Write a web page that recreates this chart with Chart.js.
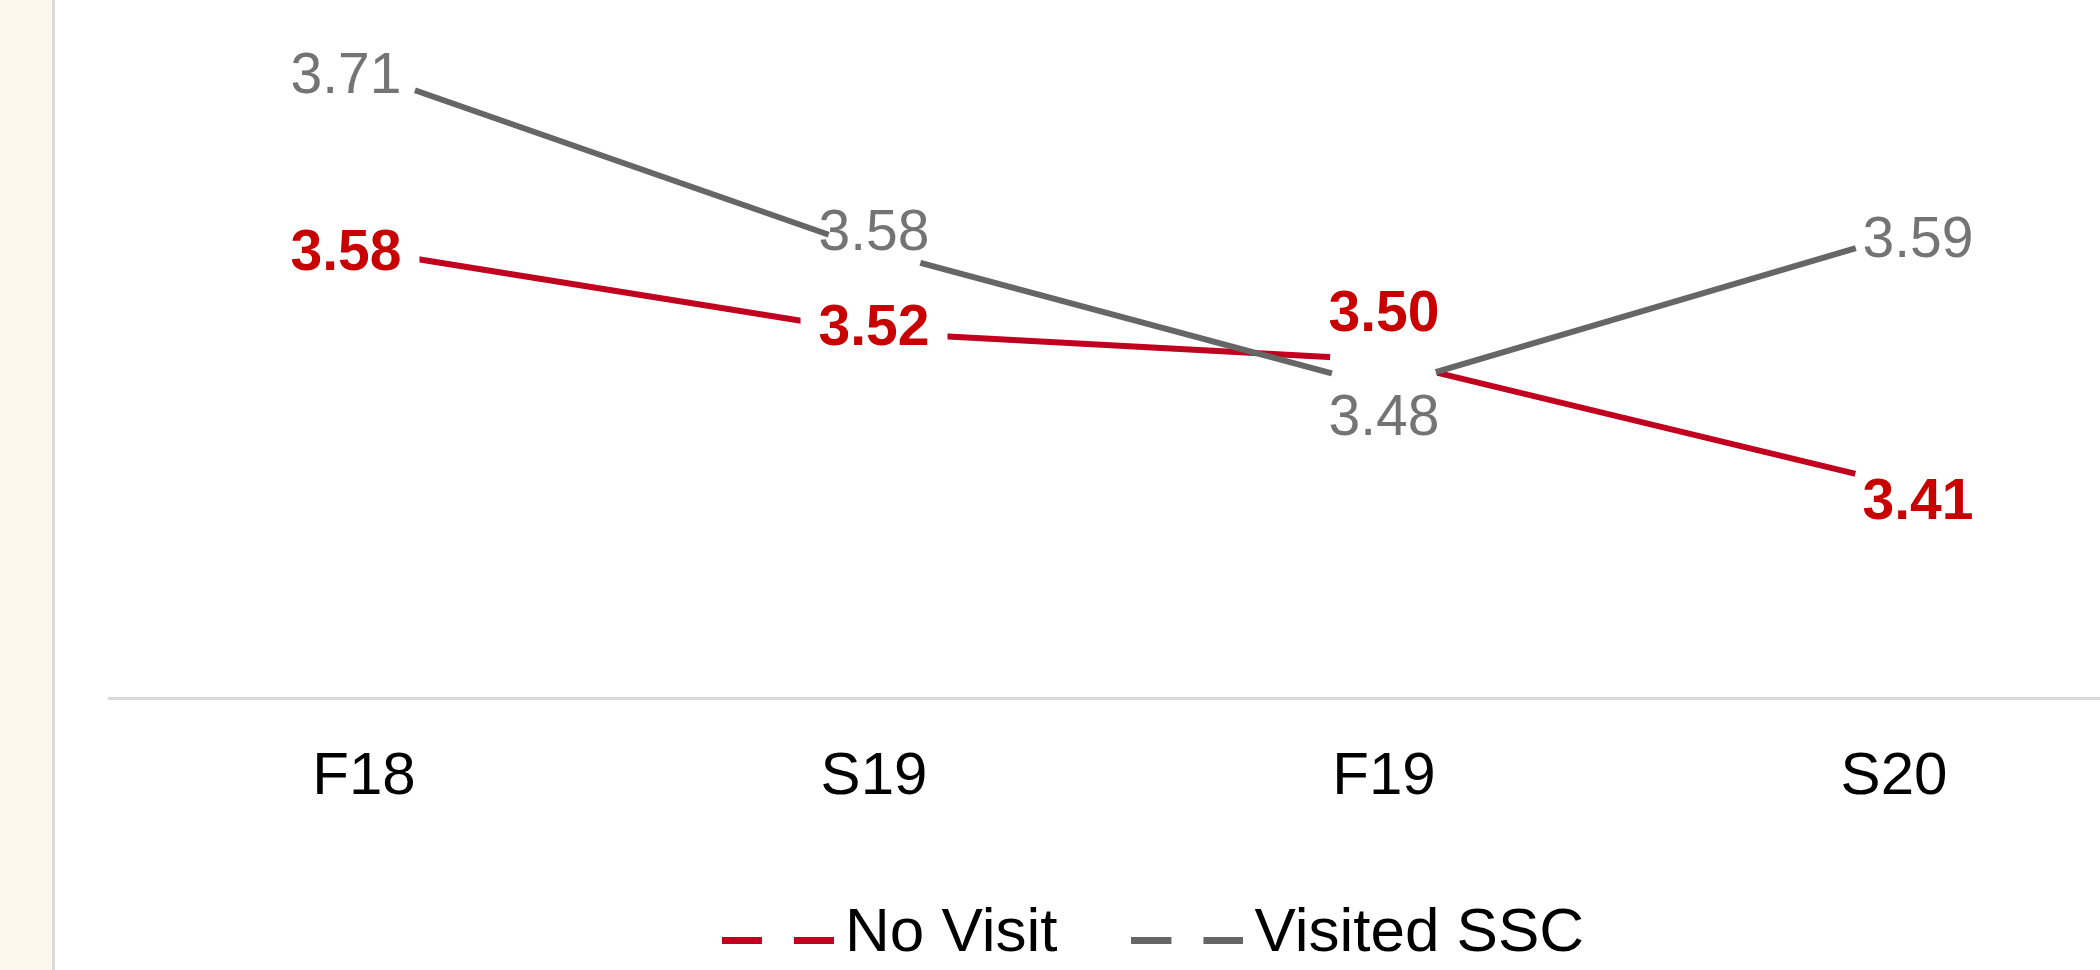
<!DOCTYPE html>
<html>
<head>
<meta charset="utf-8">
<script src="https://cdn.jsdelivr.net/npm/chart.js@4.4.1/dist/chart.umd.min.js"></script>
<style>
  html, body { margin: 0; padding: 0; background: #fff; overflow: hidden; }
  body { width: 2100px; height: 970px; position: relative; }
  #strip { position: absolute; left: 0; top: 0; width: 52px; height: 970px; background: #fdf8ec; border-right: 3px solid #dadada; }
  #wrap { position: absolute; left: 0; top: 0; width: 2200px; height: 970px; }
</style>
</head>
<body>
<div id="strip"></div>
<div id="wrap"><canvas id="chart"></canvas></div>
<script>
  // data
  const terms = ["F18", "S19", "F19", "S20"];
  const noVisit = [3.58, 3.52, 3.50, 3.41];
  const visitedSSC = [3.71, 3.58, 3.48, 3.59];
  const seriesNames = ["No Visit", "Visited SSC"];
  const yMin = 3.253;
  const yMax = 3.763;

  // label placement + white marker size (style only)
  const labelDx = [-18, 0, 0, 24];
  const noVisitDy = [4, -3, -45, 20];
  const visitedDy = [5, -16, 32, 5];
  const markerR = [54, 48, 54, 40];

  const RED = "#c0001e";
  const RED_TEXT = "#c80000";
  const GRAY = "#666666";
  const GRAY_TEXT = "#747474";

  Chart.defaults.font.family = "'Liberation Sans', Arial, sans-serif";

  // legend symbol: line broken by the (white) marker
  function legendDash(color) {
    const c = document.createElement("canvas");
    c.width = 112;
    c.height = 30;
    const g = c.getContext("2d");
    g.fillStyle = color;
    g.fillRect(0, 18, 40, 7);
    g.fillRect(72, 18, 40, 7);
    return c;
  }

  const pointLabels = {
    id: "pointLabels",
    afterDatasetsDraw(chart) {
      const ctx = chart.ctx;
      chart.data.datasets.forEach((ds, i) => {
        const meta = chart.getDatasetMeta(i);
        ctx.save();
        ctx.font = `${ds.labelBold ? "bold " : ""}57px 'Liberation Sans', Arial, sans-serif`;
        ctx.textAlign = "center";
        ctx.textBaseline = "middle";
        meta.data.forEach((pt, j) => {
          const txt = ds.data[j].toFixed(2);
          const x = pt.x + labelDx[j];
          const y = pt.y + ds.labelDy[j];
          if (ds.labelPad) {
            const w = ctx.measureText(txt).width + ds.labelPad * 2;
            ctx.fillStyle = "#fff";
            ctx.fillRect(x - w / 2, y - 26, w, 52);
          }
          ctx.fillStyle = ds.labelColor;
          ctx.fillText(txt, x, y);
        });
        ctx.restore();
      });
    },
  };

  const shiftLegend = {
    id: "shiftLegend",
    afterLayout(chart) {
      if (chart.legend) {
        chart.legend.left += 34;
        chart.legend.right += 34;
        chart.legend.top += 5;
        chart.legend.bottom += 5;
      }
    },
  };

  new Chart(document.getElementById("chart"), {
    type: "line",
    data: {
      labels: terms,
      datasets: [
        {
          label: seriesNames[0],
          data: noVisit,
          borderColor: RED,
          borderWidth: 6,
          pointRadius: markerR,
          pointHoverRadius: markerR,
          pointBackgroundColor: "#fff",
          pointBorderWidth: 0,
          order: 1,
          labelColor: RED_TEXT,
          labelBold: true,
          labelPad: 18,
          labelDy: noVisitDy,
          legendImg: legendDash(RED),
        },
        {
          label: seriesNames[1],
          data: visitedSSC,
          borderColor: GRAY,
          borderWidth: 6,
          pointRadius: markerR,
          pointHoverRadius: markerR,
          pointBackgroundColor: "#fff",
          pointBorderWidth: 0,
          order: 0,
          labelColor: GRAY_TEXT,
          labelBold: false,
          labelPad: 0,
          labelDy: visitedDy,
          legendImg: legendDash(GRAY),
        },
      ],
    },
    options: {
      responsive: true,
      maintainAspectRatio: false,
      animation: false,
      events: [],
      layout: { autoPadding: false, padding: { left: 109, right: 51, top: 0, bottom: 0 } },
      plugins: {
        tooltip: { enabled: false },
        legend: {
          position: "bottom",
          labels: {
            usePointStyle: true,
            pointStyleWidth: 72,
            padding: 94,
            color: "#000",
            font: { size: 62 },
            generateLabels: (chart) =>
              chart.data.datasets.map((ds, i) => ({
                text: ds.label,
                pointStyle: ds.legendImg,
                fontColor: "#000",
                lineWidth: 0,
                datasetIndex: i,
              })),
          },
        },
      },
      scales: {
        x: {
          offset: true,
          grid: { display: false },
          border: { display: true, color: "#d9d9d9", width: 3 },
          ticks: { color: "#000", font: { size: 60 }, padding: 35 },
          afterFit: (s) => {
            s.height = 106;
          },
        },
        y: { display: false, min: yMin, max: yMax },
      },
    },
    plugins: [pointLabels, shiftLegend],
  });
</script>
</body>
</html>
